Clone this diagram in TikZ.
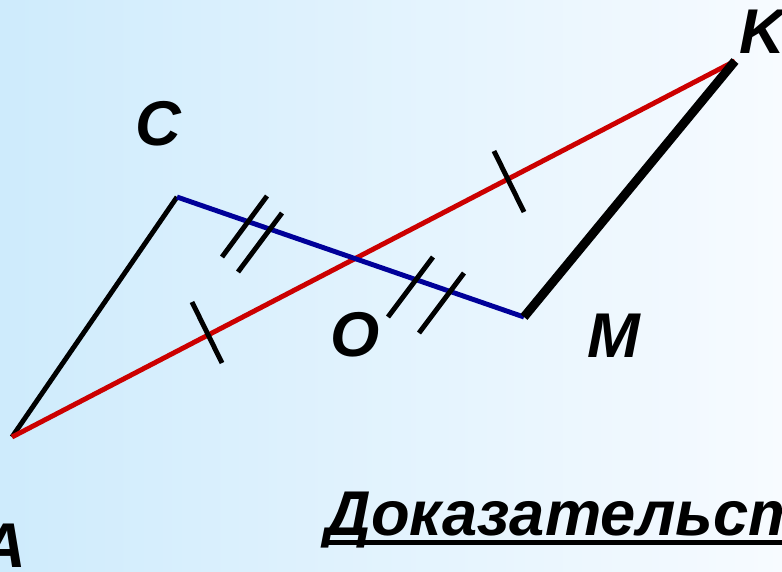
\documentclass[tikz,border=0pt]{standalone}
\usepackage{fontspec}
\setmainfont{Liberation Sans}
\usetikzlibrary{calc}
\definecolor{bgleft}{RGB}{206,235,252}
\definecolor{bgright}{RGB}{247,251,255}
\definecolor{sidered}{RGB}{204,0,0}
\definecolor{sideblue}{RGB}{0,0,153}
\tikzset{
  every picture/.style={line join=round},
  side/.style={line width=2.8pt},
  heavy/.style={line width=5.1pt},
  tickmark/.style={line width=2.8pt,black},
  lbl/.style={inner sep=0pt,font=\fontsize{36}{36}\selectfont\bfseries\itshape},
}

\begin{document}
\begin{tikzpicture}[x=0.02cm,y=-0.02cm]
\useasboundingbox (0,0) rectangle (782,572);
\clip (0,0) rectangle (782,572);
\shade[left color=bgleft,right color=bgright] (0,0) rectangle (782,572);
% points
\coordinate (A) at (12,437);
\coordinate (C) at (177,197);
\coordinate (O) at (355,260);
\coordinate (M) at (524,317);
\coordinate (K) at (735,61);
% sides
\draw[side] (A)--(C);
\draw[side,sidered] (A)--(K);
\draw[side,sideblue] (C)--(M);
\draw[heavy] (M)--(K);
% equal marks
\draw[tickmark] (192,302)--(222,363)
(494,151)--(524,212);
\draw[tickmark] (267,196)--(222,257)
(282,213)--(238,272)
(433,257)--(388,317)
(464,273)--(419,333);
% labels
\node[lbl,anchor=base] (lC) at (158,145) {C};
\node[lbl,anchor=base] (lO) at (355,356) {O};
\node[lbl,anchor=base] (lM) at (614,357) {M};
\node[lbl,anchor=base west] (lK) at (739,53) {K};
\node[lbl,anchor=base east] (lA) at (27,567) {A};
\node[lbl,anchor=base west] (proof) at (325,535) {Доказательство};
\draw[line width=2.8pt] ($(proof.base west)+(0,7.5)$)--($(proof.base east)+(0,7.5)$);
\end{tikzpicture}
\end{document}
